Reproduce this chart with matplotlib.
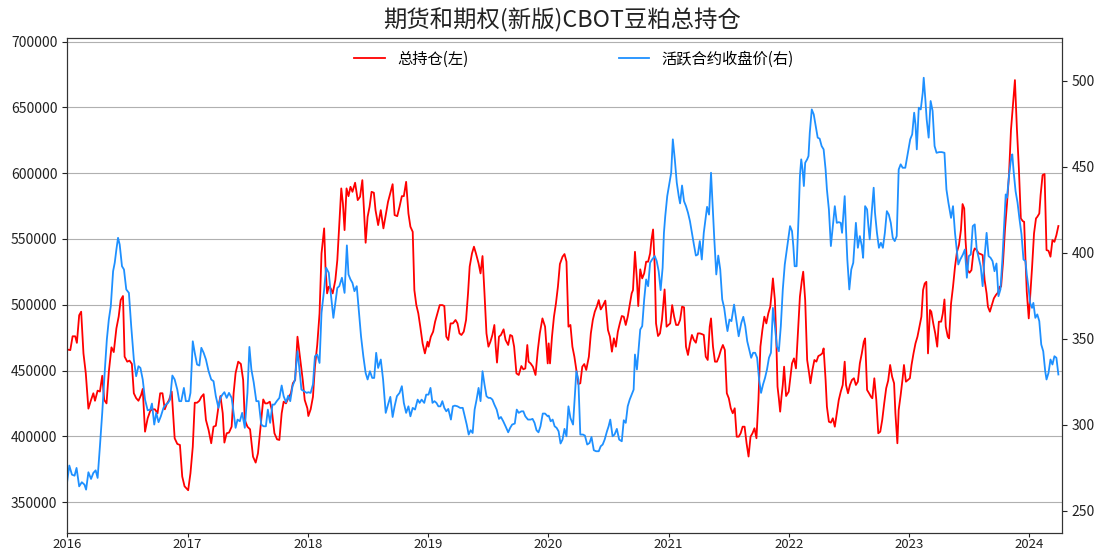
import matplotlib
matplotlib.use("Agg")
import matplotlib.pyplot as plt
import matplotlib.dates as mdates
import pandas as pd

plt.rcParams['font.family'] = ['Noto Sans CJK SC', 'DejaVu Sans']
plt.rcParams['axes.unicode_minus'] = False

TITLE = "期货和期权(新版)CBOT豆粕总持仓"
LABEL_RED = "总持仓(左)"
LABEL_BLUE = "活跃合约收盘价(右)"
UNIT = 1000  # red values below are in thousands of contracts

# ---------------- 总持仓 (left axis), day-of-year offsets and values (thousands)
red_days_2016 = [0,10,17,25,30,37,43,50,57,65,73,80,85,93,100,107,113,120,127,135,142,150,157,163,170,175,183,190,197,203,210,217,225,230,237,245,253,260,267,275,283,290,297,303,310,318,327,335,343,350,357]
red_vals_2016 = [466,465.5,476,476,471,492,494.7,463,448,421,427.6,432.7,427,434.7,434,446,427.6,425,449,467.6,464,482,491,503.5,506.6,460.5,456.7,457.5,455,432.7,429,427,431.4,436,403.5,413.7,419.5,420.5,420.5,417.5,432.7,432.7,420.5,424.5,427.6,434,398.5,394.2,393.4,369.4,362]
red_days_2017 = [2,9,16,22,29,36,42,49,56,64,72,79,86,94,100,107,112,119,126,134,140,146,154,162,169,174,182,190,199,207,214,222,230,236,242,250,256,264,272,279,286,292,299,306,314,320,327,334,342,350,356,364]
red_vals_2017 = [359,372,392,425.5,425.5,427,430,432,412.4,404.8,394.7,407.3,408,422.5,430.6,417.5,395.2,402.3,402.8,407.3,432.7,448,456.7,455,442.8,412.4,407.3,405.3,384.5,380,387.1,407.3,428,425,425,426.3,420,402.3,397.7,397.2,417.5,426.3,425,428.9,432.7,440.3,442.8,475.7,459.2,442.8,427.6,421.3]
red_days_2018 = [2,9,16,22,29,36,42,50,54,59,64,70,76,84,90,96,102,107,112,118,124,130,136,144,152,159,166,171,176,182,188,194,201,206,214,222,230,236,244,252,258,264,272,279,286,292,299,306,312,319,324,330,336,342,349,356,364]
red_vals_2018 = [415.4,420.5,430,452.9,469.4,493.4,539,558,529,508.6,513.7,512.4,508.6,518.7,533.9,561.8,588.4,577,556.7,588.4,582.5,589.6,585.8,592.7,579.5,582,594.7,571.9,547.1,566.8,574.5,585.8,585.1,571.9,560.5,571.9,558,566.8,578.2,585.8,591.6,568.1,567.3,574.5,582.5,582.5,593.4,569.3,559.3,555.4,511.1,499.7,493.4,483.3,470.6,463,471.9]
red_days_2019 = [2,9,16,22,29,36,44,50,56,62,69,76,84,90,96,102,109,116,122,127,134,140,146,154,160,166,172,178,184,190,196,202,206,210,216,222,230,236,244,250,256,262,269,276,284,290,296,302,306,312,319,327,334,340,348,356,364]
red_vals_2019 = [468.1,475.7,479.5,487.1,493.4,499.7,499.7,499,475.7,473.2,485.8,485.8,488.4,485.8,478.2,477,479.5,488.4,508.6,529,539,544.1,539,531.4,523.8,537,508.6,478.2,468.1,471.9,477,484.6,468.1,456,475.7,477,481.3,473.2,469.4,477,476.2,468.1,447.8,446.6,453.4,450.9,451.6,469.4,456.7,455.4,452.9,446.6,465.6,478.2,489.6,483.3,455.4]
red_days_2020 = [2,6,12,18,24,30,36,44,50,56,62,68,74,80,86,92,98,104,110,116,124,130,136,142,148,154,160,166,174,182,188,194,200,206,212,218,224,230,236,242,248,254,258,264,270,274,280,286,292,298,304,310,314,319,324,328,334,340,346,354,360]
red_vals_2020 = [470.6,455.4,475.7,490.9,501,513.7,530.9,536.5,538.5,532.7,483.3,484.6,468.1,460.5,450.4,439.7,440.3,452.9,454.9,450.4,460.5,478.2,488.4,494.7,498.5,503.5,496.4,499,503.1,480.8,475.7,464.3,474.5,468.1,479.5,485.8,491.4,490.9,484.6,490.9,499.7,508.6,511.1,540.2,518.7,499,526.9,520,523.8,532.7,532.7,539,549.1,557.2,529,485.8,476.2,478.2,488.4,511.6,483.3]
red_days_2021 = [5,11,17,23,29,35,41,47,53,59,65,71,77,83,89,95,101,107,113,119,125,129,135,141,147,153,159,165,171,177,183,189,195,201,207,213,219,225,231,237,243,249,255,261,267,273,279,285,291,297,303,309,313,317,323,327,331,335,339,343,347,351,357]
red_vals_2021 = [485.8,499.7,490.9,484.6,484.6,488.4,498.5,498,468.1,461.8,470.6,477,473.2,471.1,478.2,478.2,477.7,477,460.5,458,483.3,489.6,468.1,456.7,456.7,460.5,465.6,469.4,465.6,432.7,428.9,421.3,417.5,421.3,399.7,399.7,402.3,407.3,407.3,394.7,384.6,399.7,402.3,406.1,398.5,427.6,468.1,480.8,490.9,485.8,493.4,498.5,508.6,520,503.5,475.7,437.7,428.9,418.7,430,439,452.9,430.6]
red_days_2022 = [0,4,10,16,22,28,34,40,44,50,56,62,66,72,78,84,90,96,102,106,112,116,122,128,134,140,146,152,158,164,170,174,180,186,192,198,204,210,216,222,228,232,238,244,250,254,260,266,272,278,284,290,296,302,308,314,320,324,330,334,340,346,350,356]
red_vals_2022 = [433.9,442.8,455.4,459.2,451.6,478.2,506.1,518.7,525.1,503.5,458,447.8,440.3,450.4,458,456.7,461,461.8,463,466.8,442.8,422.5,411.1,410.4,413.7,407.3,417.5,427.6,433.9,439,456.7,439,432.7,439,442.8,444.1,439,441.5,455.4,463,471.9,474.4,435.2,432.7,430,428.9,444.1,427.6,402.3,403.5,412.4,425,436.5,442.3,454.2,445.3,440.3,417.5,394.7,420,431.4,444.1,454.2,441.5]
red_days_2023 = [3,8,14,20,26,32,38,43,48,53,58,64,68,74,80,86,91,98,103,108,112,118,122,128,134,140,146,152,158,163,168,172,178,184,190,196,200,206,212,218,224,230,236,240,246,252,258,264,270,276,280,286,292,298,304,310,316,322,328,334,340,346,350,354,358,364,368,374,380,386,390,396,400,406,412,418,424,430,436,442,448,454]
red_vals_2023 = [444.1,454.2,463,470.6,475.7,483.3,490.9,511.1,516.1,517.4,463,496,494.7,485.8,478.2,468.1,487.1,487.1,493.4,504,483.3,475.7,474.4,500.9,513.7,528.8,540.2,545.3,556.7,576.5,573.2,549.1,526.3,524.3,526.3,540.2,542.8,541.5,539,538.5,537.7,518.7,508.6,498.5,494.7,499.7,504.8,507.3,509.1,513.7,513.7,532.7,558,577,598.5,632.7,651.7,670.7,634,603.6,565.6,563.5,563,535.2,509.9,489.6,504.8,528,554.1,565.6,566.8,569.3,583.3,598.5,599.3,541.5,541,536.5,549.1,547.8,552.9,559.8]

# ---------------- 活跃合约收盘价 (right axis)
blue_days_2016 = [0,7,15,23,29,37,45,53,58,65,73,80,87,93,100,107,115,121,127,133,140,145,150,155,160,167,173,180,188,195,203,210,217,223,230,237,245,253,258,265,271,278,285,293,300,307,313,320,327,335,341,347,355,361]
blue_vals_2016 = [266.3,276.4,271.1,270.5,275,264.3,266.7,265.3,262.4,272.5,268.6,272.1,273.6,269.2,287.6,307,332.2,349.6,361.2,369,389.3,394.2,401.9,408.7,404.8,392.2,390.3,378.7,376.7,357.4,338,328.3,334.1,333.1,326.4,314.7,308.5,308.9,312.4,300.2,307,301.6,305,309.9,311.8,312.8,314.7,328.7,326.4,320.5,313.8,313.8,321.5,313.8]
blue_days_2017 = [4,9,16,22,29,36,42,49,56,64,72,79,86,94,100,106,112,119,126,134,140,146,152,159,166,174,182,188,194,201,209,216,224,231,238,244,251,258,264,271,279,286,292,299,306,312,319,326,334,339,346,354,362]
blue_vals_2017 = [313.8,318.6,348.6,341.9,335.1,334.5,344.8,341.9,338,331.2,326.4,325.4,316.7,309.9,315.7,317.6,319,315.7,318.6,315.7,307,298.3,303.1,302.1,307,298.3,318.6,345.3,332.2,324.8,313.8,313.8,300.2,299.2,299.2,308.9,301.2,311.8,311.8,313.8,315.7,322.9,316.7,313.2,317,313.8,322.5,326,342.8,334.1,320.5,319.6,318.6]
blue_days_2018 = [2,9,16,22,29,36,42,50,56,64,70,78,84,90,96,104,112,119,124,130,136,142,149,156,162,169,176,182,189,196,202,208,214,222,229,237,244,251,258,264,271,279,286,292,299,306,312,319,326,334,340,346,354,360]
blue_vals_2018 = [319,318.6,323.5,339.9,340.9,336,365.1,378.7,391.3,388.4,376.7,362.2,370.9,379.6,380.6,385.5,376.7,404.3,387.4,384.5,382.5,377.7,380.6,365.1,351.5,339.9,330.2,326.4,331.2,327.3,327.3,341.9,333.1,338,326.4,307,311.8,316.3,304.6,310.8,316.7,318.6,322.5,312.8,307,310.8,305,309.9,308.9,314.7,312.8,314.7,312.8,317.6]
blue_days_2019 = [2,8,14,20,26,32,38,44,50,56,62,70,76,82,90,98,106,112,118,124,130,136,142,148,154,160,166,172,178,184,190,196,202,209,216,222,229,236,244,250,256,264,270,276,284,290,296,304,312,318,324,330,336,342,349,356,364]
blue_vals_2019 = [317.6,321.5,312.8,313.8,312.8,310.8,310.8,313.8,309.9,307.9,309.3,303.1,310.8,311.2,310.8,309.9,309.9,305,300.2,294.4,296.9,295.3,308.9,314.7,321.5,313.8,331.2,323.5,316.7,315.7,315.7,314.7,311.8,308.9,303.5,304.6,302.1,299.2,295.7,298.3,300.2,300.8,308.9,307,307.9,307.9,305,303.1,303.1,303.5,301.2,296.9,295.7,299.2,306.6,306.6,305]
blue_days_2020 = [2,8,14,20,26,32,38,44,50,56,62,68,76,82,86,92,98,106,112,119,126,132,139,146,154,160,166,172,179,184,189,196,202,209,216,224,230,236,242,248,254,260,264,270,276,280,286,292,298,304,310,316,324,330,336,342,348,352,356,362]
blue_vals_2020 = [305.4,302.1,303.1,299.2,298.3,296.3,289.2,291.5,297.7,293.4,310.8,304,300.2,318.6,331.2,326.4,294.4,294.4,293.8,288.6,289.5,293,285.3,284.7,284.7,287.6,288.6,291.5,296.3,299.2,303.1,293.4,294.4,297.7,291.5,290.5,302.7,301.2,310.8,314.7,317.6,320.5,340.9,332.2,345.7,355.4,357.4,372.9,384.5,380.6,394.2,396.1,398.1,395.2,389.3,378.3,391.3,411.6,421.3,432.9]
blue_days_2021 = [8,13,19,25,31,35,41,47,53,59,65,71,77,83,89,95,101,107,113,117,123,129,135,139,145,151,157,163,169,175,179,185,191,199,205,213,221,227,233,239,245,251,257,263,269,275,281,287,293,299,305,311,317,323,329,335,341,347,353]
blue_vals_2021 = [446.5,465.9,454.3,440.7,432.9,428.7,439.1,430,427.1,423.3,418.4,411.6,404.8,398.4,399,406.8,396.1,411.6,420.9,426.7,422.2,446.5,423.3,407.8,387.4,398.4,390.3,372.9,368,359.3,354.5,361.2,360.3,369.9,362.2,351.5,359.3,362.8,357.4,348.6,343.8,339,341.9,341.9,339,326.4,318.6,323.5,327.3,332.2,339,341.9,368,357.4,345.7,342.8,357.4,378.7,393.2]
blue_days_2022 = [0,4,10,14,18,24,30,34,38,42,46,50,56,60,64,70,76,82,88,94,100,106,112,116,122,128,134,140,146,152,158,162,170,174,178,184,190,196,200,204,210,216,222,226,232,238,242,246,252,258,262,268,274,280,286,292,298,304,310,316,322,328,334,340,346,354]
blue_vals_2022 = [409.7,415.5,412.6,403.9,392.2,392.2,421.3,444.6,454.3,448.4,438.8,452.3,454.3,456.2,469.8,483.3,480.4,473.6,466.9,466.3,462,460.1,448.4,436.8,425.2,403.9,415.5,427.1,417.4,417.8,417.4,411.6,432.9,413.6,396.1,378.7,390.3,394.2,405.8,417.4,402.9,409.7,403.9,397.1,427.1,425.2,415.5,407.8,423.3,437.8,423.3,411.6,402.9,405.8,402.9,411.6,424.2,422.2,417.4,408.7,406.8,409.7,448.4,451.4,449.4,449.4]
blue_days_2023 = [4,10,16,20,24,30,36,42,45,50,54,60,66,72,78,84,92,100,108,114,120,128,134,140,146,150,156,164,170,176,182,188,194,200,206,212,218,224,230,236,242,248,254,260,266,272,278,284,290,294,298,304,310,314,318,324,330,336,342,348,354,358,364,368,374,378,384,390,396,402,408,414,418,424,430,436,442,448,454]
blue_vals_2023 = [465.9,468.8,481.4,474.6,460.1,484.3,483.3,493,501.7,489.1,477.5,466.9,488.2,482.4,462,458.1,458.5,458.5,458.1,436.8,429.1,420.3,427.1,411.6,400.4,393.2,396.1,399,401.9,385.5,398.1,399,415.5,416.5,401.9,397.1,392.2,380.6,398.1,411.6,398.1,397.1,395.2,389.3,393.8,374.8,378.7,396.1,419.4,433.9,432,444.6,454.3,457.2,447.5,435.8,429.1,419.4,410.7,396.1,395.2,387.4,378.7,370.9,368,370.9,362.2,364.2,360.3,346.7,342.8,331.2,326.4,330.2,338,335.1,339.9,339,329.3]

YEARS = [2016, 2017, 2018, 2019, 2020, 2021, 2022, 2023]
red_days = [red_days_2016, red_days_2017, red_days_2018, red_days_2019,
            red_days_2020, red_days_2021, red_days_2022, red_days_2023]
red_vals = [red_vals_2016, red_vals_2017, red_vals_2018, red_vals_2019,
            red_vals_2020, red_vals_2021, red_vals_2022, red_vals_2023]
blue_days = [blue_days_2016, blue_days_2017, blue_days_2018, blue_days_2019,
             blue_days_2020, blue_days_2021, blue_days_2022, blue_days_2023]
blue_vals = [blue_vals_2016, blue_vals_2017, blue_vals_2018, blue_vals_2019,
             blue_vals_2020, blue_vals_2021, blue_vals_2022, blue_vals_2023]


def build(days_list, vals_list, scale=1.0):
    dates, vals = [], []
    for yr, ds, vs in zip(YEARS, days_list, vals_list):
        base = pd.Timestamp(f"{yr}-01-01")
        for d, v in zip(ds, vs):
            dates.append(base + pd.Timedelta(days=d))
            vals.append(v * scale)
    return pd.Series(vals, index=pd.DatetimeIndex(dates))


red = build(red_days, red_vals, UNIT)
blue = build(blue_days, blue_vals)

fig = plt.figure(figsize=(10.94, 5.54), dpi=100)
ax = fig.add_axes([67 / 1094, 1 - 533 / 554, (1062 - 67) / 1094, (533 - 38) / 554])
ax2 = ax.twinx()

l1, = ax.plot(red.index, red.values, color='#ff0000', lw=1.3, label=LABEL_RED)
l2, = ax2.plot(blue.index, blue.values, color='#1e90ff', lw=1.3, label=LABEL_BLUE)

ax.set_ylim(326500, 702700)
ax.set_yticks([350000, 400000, 450000, 500000, 550000, 600000, 650000, 700000])
ax2.set_ylim(237.2, 524.8)
ax2.set_yticks([250, 300, 350, 400, 450, 500])
ax.set_xlim(pd.Timestamp("2016-01-01"), pd.Timestamp("2024-04-10"))
ax.xaxis.set_major_locator(mdates.YearLocator())
ax.xaxis.set_major_formatter(mdates.DateFormatter('%Y'))

ax.grid(axis='y', color='#b0b0b0', lw=0.8)
ax.set_axisbelow(True)
for a in (ax, ax2):
    a.tick_params(labelsize=10, colors='#222222', length=3.5)
    for s in a.spines.values():
        s.set_color('#333333')
ax.tick_params(axis='x', length=3, pad=0.5, labelsize=9.5)

fig.text(0.514, 1 - 20 / 554, TITLE, ha='center', va='center', fontsize=16.8, color='#222222')
fig.legend(handles=[l1, l2], loc='center', bbox_to_anchor=(574 / 1094, 1 - 59 / 554),
           ncol=2, frameon=False, fontsize=11, columnspacing=9.85,
           handlelength=2.0, handletextpad=0.8)

fig.savefig('out.png', dpi=100)
